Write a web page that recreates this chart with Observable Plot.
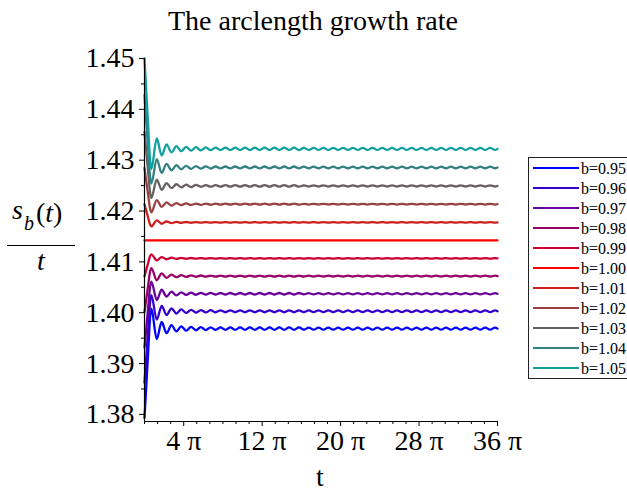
<!DOCTYPE html>
<html><head><meta charset="utf-8">
<script src="https://cdn.jsdelivr.net/npm/d3@7"></script>
<script src="https://cdn.jsdelivr.net/npm/@observablehq/plot@0.6"></script>
<style>
html,body{margin:0;padding:0;background:#fff;}
#wrap{position:relative;width:627px;height:493px;overflow:hidden;font-family:"Liberation Serif","Times New Roman",serif;color:#000;}
#chart{position:absolute;left:0;top:0;}
#overlay{position:absolute;left:0;top:0;}
</style></head>
<body><div id="wrap"><div id="chart"></div><svg id="overlay" width="627" height="493"></svg></div>
<script>
const titleText = "The arclength growth rate";
const xLabelText = "t";
const xTicks = [4, 12, 20, 28, 36];
const xTickLabels = ["4 π", "12 π", "20 π", "28 π", "36 π"];
const yTicks = [1.38, 1.39, 1.40, 1.41, 1.42, 1.43, 1.44, 1.45];
const yTickLabels = ["1.38", "1.39", "1.40", "1.41", "1.42", "1.43", "1.44", "1.45"];
const seriesLabels = ["b=0.95","b=0.96","b=0.97","b=0.98","b=0.99","b=1.00","b=1.01","b=1.02","b=1.03","b=1.04","b=1.05"];
const seriesColors = ["#0000ff","#3300cc","#660099","#990066","#cc0033","#ff0000","#cc2020","#994040","#666060","#338080","#10a0a0"];

// t / pi sample positions (curve extremes)
const tPi = [0,0.2,0.4,0.55,0.7,1.25,1.75,2.25,2.75,3.25,3.75,4.25,4.75,5.25,5.75,6.25,6.75,
7.25,7.75,8.25,8.75,9.25,9.75,10.25,10.75,11.25,11.75,12.25,12.75,13.25,13.75,14.25,14.75,15.25,15.75,
16.25,16.75,17.25,17.75,18.25,18.75,19.25,19.75,20.25,20.75,21.25,21.75,22.25,22.75,23.25,23.75,24.25,24.75,25.25,25.75,
26.25,26.75,27.25,27.75,28.25,28.75,29.25,29.75,30.25,30.75,31.25,31.75,32.25,32.75,33.25,33.75,34.25,34.75,35.25,35.75,36];
const tFlat = [0, 36];

const s095 = [1.37931,1.38622,1.39322,1.39862,1.40082,1.39482,1.39817,1.39597,1.39757,1.39632,1.39732,1.39647,1.39723,1.39654,1.39717,1.39659,1.39713,
1.39663,1.39711,1.39663,1.39711,1.39663,1.39711,1.39663,1.39711,1.39663,1.39711,1.39663,1.39711,1.39663,1.39711,1.39663,1.39711,1.39663,1.39711,
1.39667,1.39707,1.39667,1.39707,1.39667,1.39707,1.39667,1.39707,1.39667,1.39707,1.39667,1.39707,1.39667,1.39707,1.39667,1.39707,1.39667,1.39707,1.39667,1.39707,
1.39667,1.39707,1.39667,1.39707,1.39667,1.39707,1.39667,1.39707,1.39667,1.39707,1.39667,1.39707,1.39667,1.39707,1.39667,1.39707,1.39667,1.39707,1.39667,1.39707,1.39687];
const s096 = [1.38622,1.39176,1.39736,1.40168,1.40344,1.39864,1.40132,1.39956,1.40084,1.39984,1.40064,1.39996,1.40057,1.40001,1.40052,1.40005,1.40049,
1.40009,1.40047,1.40009,1.40047,1.40009,1.40047,1.40009,1.40047,1.40009,1.40047,1.40009,1.40047,1.40009,1.40047,1.40009,1.40047,1.40009,1.40047,
1.40012,1.40044,1.40012,1.40044,1.40012,1.40044,1.40012,1.40044,1.40012,1.40044,1.40012,1.40044,1.40012,1.40044,1.40012,1.40044,1.40012,1.40044,1.40012,1.40044,
1.40012,1.40044,1.40012,1.40044,1.40012,1.40044,1.40012,1.40044,1.40012,1.40044,1.40012,1.40044,1.40012,1.40044,1.40012,1.40044,1.40012,1.40044,1.40012,1.40044,1.40028];
const s097 = [1.39316,1.39734,1.40154,1.40478,1.40610,1.40250,1.40451,1.40319,1.40415,1.40340,1.40400,1.40349,1.40395,1.40353,1.40391,1.40356,1.40389,
1.40358,1.40388,1.40358,1.40388,1.40358,1.40388,1.40358,1.40388,1.40358,1.40388,1.40358,1.40388,1.40358,1.40388,1.40358,1.40388,1.40358,1.40388,
1.40361,1.40385,1.40361,1.40385,1.40361,1.40385,1.40361,1.40385,1.40361,1.40385,1.40361,1.40385,1.40361,1.40385,1.40361,1.40385,1.40361,1.40385,1.40361,1.40385,
1.40361,1.40385,1.40361,1.40385,1.40361,1.40385,1.40361,1.40385,1.40361,1.40385,1.40361,1.40385,1.40361,1.40385,1.40361,1.40385,1.40361,1.40385,1.40361,1.40385,1.40373];
const s098 = [1.40014,1.40294,1.40574,1.40790,1.40878,1.40638,1.40772,1.40684,1.40748,1.40698,1.40738,1.40704,1.40735,1.40707,1.40732,1.40709,1.40731,
1.40710,1.40730,1.40710,1.40730,1.40710,1.40730,1.40710,1.40730,1.40710,1.40730,1.40710,1.40730,1.40710,1.40730,1.40710,1.40730,1.40710,1.40730,
1.40712,1.40728,1.40712,1.40728,1.40712,1.40728,1.40712,1.40728,1.40712,1.40728,1.40712,1.40728,1.40712,1.40728,1.40712,1.40728,1.40712,1.40728,1.40712,1.40728,
1.40712,1.40728,1.40712,1.40728,1.40712,1.40728,1.40712,1.40728,1.40712,1.40728,1.40712,1.40728,1.40712,1.40728,1.40712,1.40728,1.40712,1.40728,1.40712,1.40728,1.40720];
const s099 = [1.40716,1.40856,1.40996,1.41104,1.41148,1.41028,1.41095,1.41051,1.41083,1.41058,1.41078,1.41061,1.41076,1.41062,1.41075,1.41063,1.41074,
1.41064,1.41074,1.41064,1.41074,1.41064,1.41074,1.41064,1.41074,1.41064,1.41074,1.41064,1.41074,1.41064,1.41074,1.41064,1.41074,1.41064,1.41074,
1.41065,1.41073,1.41065,1.41073,1.41065,1.41073,1.41065,1.41073,1.41065,1.41073,1.41065,1.41073,1.41065,1.41073,1.41065,1.41073,1.41065,1.41073,1.41065,1.41073,
1.41065,1.41073,1.41065,1.41073,1.41065,1.41073,1.41065,1.41073,1.41065,1.41073,1.41065,1.41073,1.41065,1.41073,1.41065,1.41073,1.41065,1.41073,1.41065,1.41073,1.41069];
const s100 = [1.41421, 1.41421];
const s101 = [1.42130,1.41989,1.41849,1.41741,1.41697,1.41817,1.41750,1.41794,1.41762,1.41787,1.41767,1.41784,1.41769,1.41783,1.41770,1.41782,1.41771,
1.41781,1.41771,1.41781,1.41771,1.41781,1.41771,1.41781,1.41771,1.41781,1.41771,1.41781,1.41771,1.41781,1.41771,1.41781,1.41771,1.41781,1.41771,
1.41780,1.41772,1.41780,1.41772,1.41780,1.41772,1.41780,1.41772,1.41780,1.41772,1.41780,1.41772,1.41780,1.41772,1.41780,1.41772,1.41780,1.41772,1.41780,1.41772,
1.41780,1.41772,1.41780,1.41772,1.41780,1.41772,1.41780,1.41772,1.41780,1.41772,1.41780,1.41772,1.41780,1.41772,1.41780,1.41772,1.41780,1.41772,1.41780,1.41772,1.41776];
const s102 = [1.42843,1.42560,1.42280,1.42064,1.41976,1.42216,1.42082,1.42170,1.42106,1.42156,1.42116,1.42150,1.42119,1.42147,1.42122,1.42145,1.42123,
1.42144,1.42124,1.42144,1.42124,1.42144,1.42124,1.42144,1.42124,1.42144,1.42124,1.42144,1.42124,1.42144,1.42124,1.42144,1.42124,1.42144,1.42124,
1.42142,1.42126,1.42142,1.42126,1.42142,1.42126,1.42142,1.42126,1.42142,1.42126,1.42142,1.42126,1.42142,1.42126,1.42142,1.42126,1.42142,1.42126,1.42142,1.42126,
1.42142,1.42126,1.42142,1.42126,1.42142,1.42126,1.42142,1.42126,1.42142,1.42126,1.42142,1.42126,1.42142,1.42126,1.42142,1.42126,1.42142,1.42126,1.42142,1.42126,1.42134];
const s103 = [1.43558,1.43133,1.42713,1.42389,1.42257,1.42617,1.42416,1.42548,1.42452,1.42527,1.42467,1.42518,1.42472,1.42514,1.42476,1.42511,1.42478,
1.42509,1.42479,1.42509,1.42479,1.42509,1.42479,1.42509,1.42479,1.42509,1.42479,1.42509,1.42479,1.42509,1.42479,1.42509,1.42479,1.42509,1.42479,
1.42506,1.42482,1.42506,1.42482,1.42506,1.42482,1.42506,1.42482,1.42506,1.42482,1.42506,1.42482,1.42506,1.42482,1.42506,1.42482,1.42506,1.42482,1.42506,1.42482,
1.42506,1.42482,1.42506,1.42482,1.42506,1.42482,1.42506,1.42482,1.42506,1.42482,1.42506,1.42482,1.42506,1.42482,1.42506,1.42482,1.42506,1.42482,1.42506,1.42482,1.42494];
const s104 = [1.44278,1.43709,1.43149,1.42717,1.42541,1.43021,1.42753,1.42929,1.42801,1.42901,1.42821,1.42889,1.42828,1.42884,1.42833,1.42880,1.42836,
1.42876,1.42838,1.42876,1.42838,1.42876,1.42838,1.42876,1.42838,1.42876,1.42838,1.42876,1.42838,1.42876,1.42838,1.42876,1.42838,1.42876,1.42838,
1.42873,1.42841,1.42873,1.42841,1.42873,1.42841,1.42873,1.42841,1.42873,1.42841,1.42873,1.42841,1.42873,1.42841,1.42873,1.42841,1.42873,1.42841,1.42873,1.42841,
1.42873,1.42841,1.42873,1.42841,1.42873,1.42841,1.42873,1.42841,1.42873,1.42841,1.42873,1.42841,1.42873,1.42841,1.42873,1.42841,1.42873,1.42841,1.42873,1.42841,1.42857];
const s105 = [1.45000,1.44287,1.43587,1.43047,1.42827,1.43427,1.43092,1.43312,1.43152,1.43277,1.43177,1.43262,1.43186,1.43255,1.43192,1.43250,1.43196,
1.43246,1.43198,1.43246,1.43198,1.43246,1.43198,1.43246,1.43198,1.43246,1.43198,1.43246,1.43198,1.43246,1.43198,1.43246,1.43198,1.43246,1.43198,
1.43242,1.43202,1.43242,1.43202,1.43242,1.43202,1.43242,1.43202,1.43242,1.43202,1.43242,1.43202,1.43242,1.43202,1.43242,1.43202,1.43242,1.43202,1.43242,1.43202,
1.43242,1.43202,1.43242,1.43202,1.43242,1.43202,1.43242,1.43202,1.43242,1.43202,1.43242,1.43202,1.43242,1.43202,1.43242,1.43202,1.43242,1.43202,1.43242,1.43202,1.43222];

const seriesValues = [s095, s096, s097, s098, s099, s100, s101, s102, s103, s104, s105];
const seriesT = [tPi, tPi, tPi, tPi, tPi, tFlat, tPi, tPi, tPi, tPi, tPi];

const rows = [];
seriesValues.forEach((vals, k) => {
  const ts = seriesT[k];
  vals.forEach((v, i) => rows.push({t: ts[i], v, b: seriesLabels[k]}));
});

const yMin = 1.3786, yMax = 1.45;
const yMinor = d3.range(1.385, 1.45, 0.01);
const xMinor = d3.range(0, 36.001, 4 / 3).filter(d => !xTicks.some(t => Math.abs(t - d) < 1e-6));
const serif = "'Liberation Serif', 'Times New Roman', serif";

const plot = Plot.plot({
  width: 627,
  height: 493,
  marginTop: 58,
  marginBottom: 72,
  marginLeft: 144,
  marginRight: 130,
  style: {fontFamily: serif, fontSize: "28px", background: "transparent", color: "#000", overflow: "visible"},
  x: {domain: [0, 36], label: null},
  y: {domain: [yMin, yMax], label: null},
  color: {domain: seriesLabels, range: seriesColors},
  marks: [
    Plot.line(rows, {x: "t", y: "v", z: "b", stroke: "b", strokeWidth: 2.3, curve: "monotone-x"}),
    Plot.ruleX([0], {stroke: "#000", strokeWidth: 1.2}),
    Plot.ruleY([yMin], {stroke: "#000", strokeWidth: 1.2}),
    Plot.axisY(yTicks, {tickFormat: (d) => yTickLabels[yTicks.findIndex(t => Math.abs(t - d) < 1e-9)], tickSize: 5, tickPadding: 5, fontSize: 28, stroke: "#000"}),
    Plot.axisY(yMinor, {tickSize: 3, text: null, stroke: "#000"}),
    Plot.axisX(xTicks, {tickFormat: (d) => xTickLabels[xTicks.indexOf(d)], tickSize: 5, tickPadding: 4, fontSize: 28, stroke: "#000"}),
    Plot.axisX(xMinor, {tickSize: 3, text: null, stroke: "#000"})
  ]
});
document.getElementById("chart").appendChild(plot);

// overlay: title, axis labels, legend
const ov = d3.select("#overlay").style("font-family", serif);
ov.append("text").attr("x", 313).attr("y", 30).attr("text-anchor", "middle").attr("font-size", 28).attr("font-family", serif).text(titleText);
ov.append("text").attr("x", 320).attr("y", 486).attr("text-anchor", "middle").attr("font-size", 28).attr("font-family", serif).text(xLabelText);

const yl = ov.append("g").attr("font-size", 28).attr("font-family", serif);
yl.append("text").attr("x", 12).attr("y", 219).attr("font-style", "italic").text("s");
yl.append("text").attr("x", 24).attr("y", 230).attr("font-style", "italic").attr("font-size", 20).text("b");
const pt = yl.append("text").attr("x", 36).attr("y", 222);
pt.append("tspan").text("(");
pt.append("tspan").attr("font-style", "italic").text("t");
pt.append("tspan").text(")");
yl.append("line").attr("x1", 7).attr("x2", 75).attr("y1", 245.5).attr("y2", 245.5).attr("stroke", "#000").attr("stroke-width", 1);
yl.append("text").attr("x", 41).attr("y", 270).attr("text-anchor", "middle").attr("font-style", "italic").text("t");

const lg = ov.append("g").attr("font-family", serif);
lg.append("rect").attr("x", 528.5).attr("y", 157.5).attr("width", 130).attr("height", 221).attr("fill", "#fff").attr("stroke", "#222").attr("stroke-width", 1);
seriesLabels.forEach((lab, i) => {
  const yy = 168 + 20 * i;
  lg.append("line").attr("x1", 533).attr("x2", 579).attr("y1", yy).attr("y2", yy).attr("stroke", seriesColors[i]).attr("stroke-width", 2);
  lg.append("text").attr("x", 581).attr("y", yy + 5.5).attr("font-size", 16).text(lab);
});
</script>
</body></html>
